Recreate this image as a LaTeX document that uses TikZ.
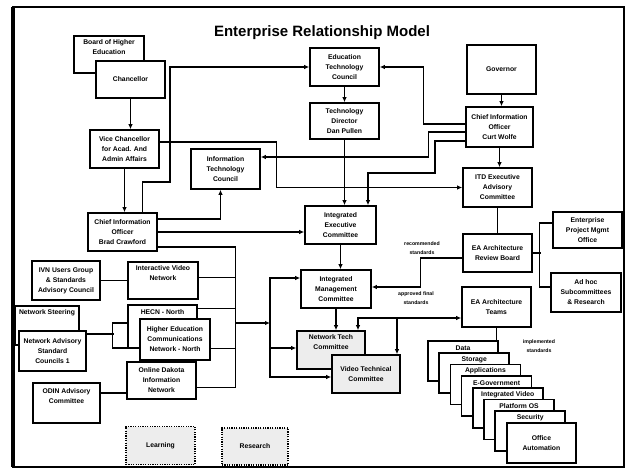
\documentclass[tikz,border=0pt]{standalone}
\usepackage{fontspec}
\setmainfont{Liberation Sans}
\usetikzlibrary{arrows.meta}

\begin{document}
\begin{tikzpicture}[x=1pt,y=-1pt,
    box/.style={draw, line width=1.6pt, fill=white, minimum width=69pt, minimum height=38pt,
        inner sep=1pt, align=center, font=\bfseries\fontsize{6.8}{10}\selectfont},
    txt/.style={inner sep=0pt, align=center, font=\bfseries\fontsize{6.8}{10}\selectfont},
    lbl/.style={inner sep=0pt, align=center, font=\bfseries\fontsize{5.2}{9}\selectfont},
    shaded/.style={fill=black!7},
    stackbox/.style={box, minimum width=70pt, minimum height=40pt},
    faint/.style={box, line width=1.2pt, dash pattern=on 1.2pt off 1.2pt, fill=black!7},
    arr/.style={line width=1.2pt, -{Latex[length=5pt,width=4.5pt]}},
    wire/.style={line width=1.2pt}]
    \useasboundingbox (0,0) rectangle (628,471);

    % Frame
    \draw[line width=2.4pt] (13,7) rectangle (624,467);
    \draw[line width=4pt] (13,7) -- (13,467);
    \node[font=\bfseries\fontsize{15}{18}\selectfont] (title) at (322,33) {Enterprise Relationship Model};

    % Higher education side
    \node[box, minimum width=70pt, minimum height=37pt] (board) at (109,54.5) {};
    \node[txt] (boardtxt) at (109,47) {Board of Higher\\Education};
    \node[box, minimum height=37pt] (chanc) at (130.5,79.5) {Chancellor};
    \node[box] (vicech) at (124.5,149) {Vice Chancellor\\for Acad. And\\Admin Affairs};
    \node[box, minimum height=40pt] (itc) at (225.5,169) {Information\\Technology\\Council};
    \node[box] (cioA) at (122.5,232) {Chief Information\\Officer\\Brad Crawford};

    % Middle column
    \node[box] (etc) at (344.5,67) {Education\\Technology\\Council};
    \node[box, minimum height=36pt] (techdir) at (344.5,121) {Technology\\Director\\Dan Pullen};
    \node[box, minimum width=71pt] (iec) at (340.5,225) {Integrated\\Executive\\Committee};
    \node[box, minimum width=70pt] (imc) at (336,289) {Integrated\\Management\\Committee};
    \node[box, shaded, minimum width=68pt] (ntc) at (331,350) {};
    \node[txt] (ntctxt) at (331,342) {Network Tech\\Committee};
    \node[box, shaded, minimum width=68pt] (vtc) at (366,374) {Video Technical\\Committee};

    % State side
    \node[box, minimum height=49pt] (gov) at (501.5,69.5) {Governor};
    \node[box, minimum width=67pt, minimum height=40pt] (cioB) at (499.5,127) {Chief Information\\Officer\\Curt Wolfe};
    \node[box, minimum height=39pt] (itsexec) at (497.5,187.5) {ITD Executive\\Advisory\\Committee};
    \node[box] (earb) at (497.5,253) {EA Architecture\\Review Board};
    \node[box, minimum height=36pt] (epmo) at (587.5,230) {Enterprise\\Project Mgmt\\Office};
    \node[box, minimum width=70pt, minimum height=39pt] (adhoc) at (586,292.5) {Ad hoc\\Subcommittees\\\& Research};
    \node[box, minimum height=40pt] (eateam) at (496.5,307) {EA Architecture\\Teams};

    % Domain teams, stacked
    \node[stackbox] (ea0) at (463,361) {};
    \node[txt] (ea0txt) at (463,348) {Data};
    \node[stackbox] (ea1) at (474.2,372.7) {};
    \node[txt] (ea1txt) at (474.2,359.5) {Storage};
    \node[stackbox] (ea2) at (485.4,384.4) {};
    \node[txt] (ea2txt) at (485.4,371) {Applications};
    \node[stackbox] (ea3) at (496.6,396.1) {};
    \node[txt] (ea3txt) at (496.6,383) {E-Government};
    \node[stackbox] (ea4) at (507.8,407.8) {};
    \node[txt] (ea4txt) at (507.8,394.5) {Integrated Video};
    \node[stackbox] (ea5) at (519,419.5) {};
    \node[txt] (ea5txt) at (519,406) {Platform OS};
    \node[stackbox] (ea6) at (530.2,431.2) {};
    \node[txt] (ea6txt) at (530.2,418) {Security};
    \node[stackbox, minimum width=69pt] (ea7) at (541.4,442.9) {Office\\Automation};

    % Networks and advisory groups
    \node[box, minimum width=68pt, minimum height=39pt] (ivnug) at (66,280.5) {IVN Users Group\\\& Standards\\Advisory Council};
    \node[box, minimum width=70pt, minimum height=37pt] (ivn) at (163,280.5) {};
    \node[txt] (ivntxt) at (163,273) {Interactive Video\\Network};
    \node[box, minimum width=64pt, minimum height=39pt] (netsteer) at (47,325.5) {};
    \node[txt] (netsteertxt) at (47,313) {Network Steering};
    \node[box, minimum width=67pt, minimum height=40pt] (netusers) at (52.5,351) {Network Advisory\\Standard\\Councils 1};
    \node[box, minimum height=43pt] (hecn) at (162.5,326.5) {};
    \node[txt] (hecntxt) at (162.5,312) {HECN - North};
    \node[box, minimum width=70pt, minimum height=41pt] (hecnn) at (175,339.5) {Higher Education\\Communications\\Network - North};
    \node[box, minimum height=37pt] (odin) at (161.5,380.5) {Online Dakota\\Information\\Network};
    \node[box, minimum width=67pt, minimum height=40pt] (odinac) at (66.5,403) {};
    \node[txt] (odinactxt) at (66.5,396) {ODIN Advisory\\Committee};
    \node[faint] (learn) at (160.5,445.5) {Learning};
    \node[faint, minimum width=66pt, minimum height=37pt] (research) at (255,446.5) {Research};

    % Flow labels
    \node[lbl] (lblrec) at (422,248) {recommended\\standards};
    \node[lbl] (lblappr) at (416,298) {approved final\\standards};
    \node[lbl] (lblimpl) at (539,346) {implemented\\standards};

    % Higher education links
    \draw[arr] (chanc.south) -- (chanc.south |- vicech.north);
    \draw[arr] (vicech.south) -- (vicech.south |- cioA.north);
    \draw[arr] ([xshift=20pt]cioA.north) |- (170,182) |- (etc.west);
    \draw[arr] ([yshift=7pt]vicech.east) -| ([xshift=-186pt]itsexec.west) -- (itsexec.west);
    \draw[arr] ([yshift=13pt]cioA.east) -| ([xshift=-5pt]itc.south);
    \draw[arr] (cioA.east) -- (cioA.east -| iec.west);

    % Middle column links
    \draw[arr] (etc.south) -- (techdir.north);
    \draw[arr] (techdir.south) -- (techdir.south |- iec.north);
    \draw[arr] (iec.south) -- (iec.south |- imc.north);
    \draw[arr] (imc.south) -- (imc.south |- ntc.north);

    % State links
    \draw[arr] (gov.south) -- (gov.south |- cioB.north);
    \draw[arr] (cioB.south) -- (cioB.south |- itsexec.north);
    \draw[arr] ([yshift=3pt]cioB.west) -| ([xshift=44pt]etc.east) -- (etc.east);
    \draw[arr] ([yshift=-5pt]cioB.west) -| ([xshift=168pt,yshift=12pt]itc.east) -- ([yshift=12pt]itc.east);
    \draw[arr] ([yshift=-14pt]cioB.west) -| (435,173) -| ([xshift=27.5pt]iec.north);

    % Review board and teams
    \draw[wire] (itsexec.south) -- (itsexec.south |- earb.north);
    \draw[wire] (earb.east) -- +(8,0);
    \draw[wire] ([yshift=7pt]epmo.west) -| ([xshift=-11pt,yshift=5.5pt]adhoc.west) -- ([yshift=5.5pt]adhoc.west);
    \draw[arr] ([yshift=-5pt]earb.west) -| ([xshift=49pt,yshift=2pt]imc.east) -- ([yshift=2pt]imc.east);
    \coordinate (teamfork) at (397,318);
    \draw[arr] (teamfork) -- ([yshift=-11pt]eateam.west);
    \draw[arr] (teamfork) -| ([xshift=27pt]ntc.north);
    \draw[arr] (teamfork) -- ([xshift=31pt]vtc.north);
    \draw[wire] (eateam.south) -- (eateam.south |- ea0.north);

    % Network links
    \coordinate (busL) at (235,323);
    \coordinate (busR) at (270,323);
    \draw[wire] ([yshift=-15pt]cioA.east) -| ([xshift=39pt,yshift=-7pt]odin.east) -- ([yshift=-7pt]odin.east);
    \draw[wire] ([yshift=3pt]ivn.east) -- +(37,0);
    \draw[wire] ([yshift=18pt]hecn.east) -- +(38,0);
    \draw[wire] ([yshift=-9pt]hecnn.east) -- +(25,0);
    \draw[arr] (busL) -- (busR);
    \draw[arr] (busR) |- ([yshift=11pt]imc.west);
    \draw[arr] (busR) |- ([yshift=2pt]ntc.west);
    \draw[arr] (busR) |- ([yshift=-3pt]vtc.west);
    \draw[wire] (ivnug.east) -- (ivn.west);
    \draw[wire] ([yshift=17pt]netusers.east) -- +(27,0);
    \draw[wire] ([yshift=3.5pt]hecn.west) -| ([xshift=-27pt,yshift=-8.5pt]hecnn.west) -- ([yshift=-8.5pt]hecnn.west);
    \draw[wire] ([yshift=10pt]odinac.east) -- ([yshift=-12.5pt]odin.west);
\end{tikzpicture}
\end{document}
